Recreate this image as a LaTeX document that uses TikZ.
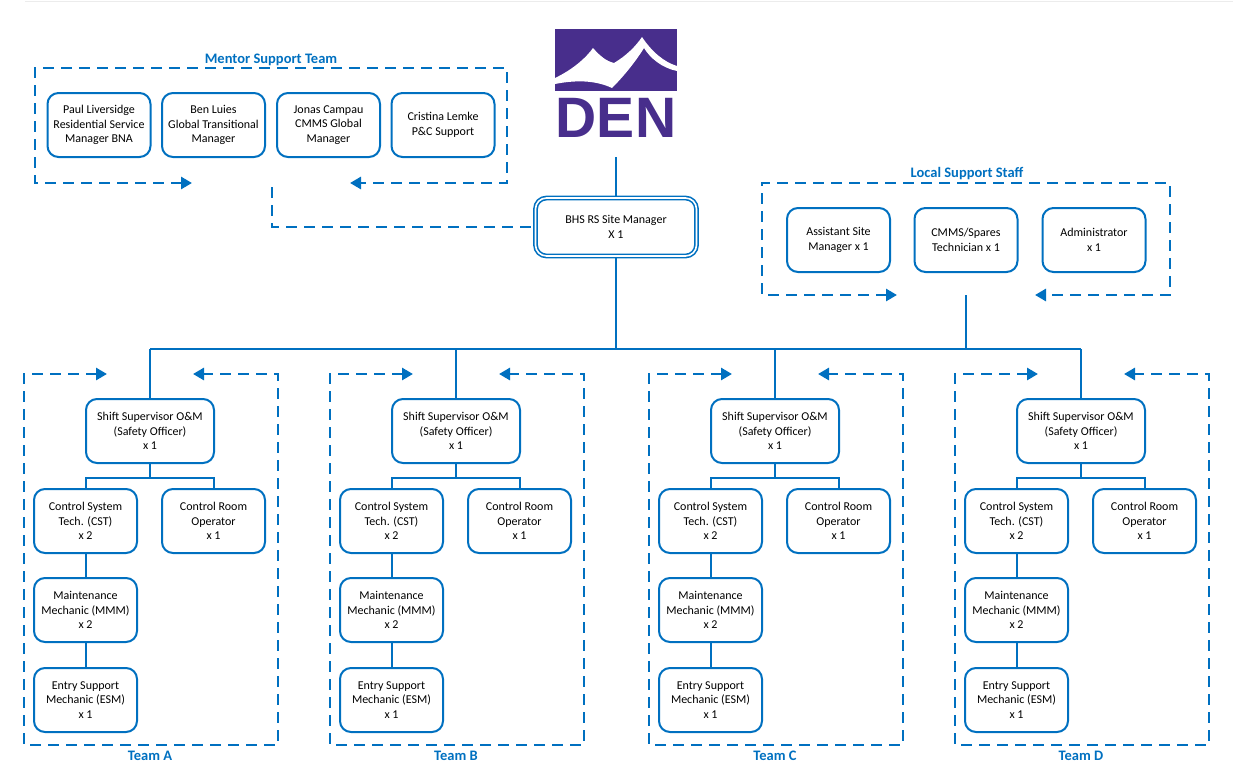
\documentclass[tikz,border=0pt]{standalone}
\usepackage{fontspec}
\setmainfont{Carlito}
\newfontfamily\logofont{Liberation Sans}
\usetikzlibrary{arrows.meta, positioning, calc}
\definecolor{orgblue}{RGB}{0,112,192}
\definecolor{denpurple}{RGB}{72,46,140}
\tikzset{
 staff/.style={draw=orgblue, line width=2pt, rounded corners=11pt, fill=white, align=center,
   minimum width=103pt, minimum height=64pt, inner sep=2pt, font=\fontsize{12}{14.5}\selectfont},
 chief/.style={staff, minimum width=128pt},
 teamframe/.style={draw=orgblue, line width=2.8pt, dash pattern=on 11pt off 7pt},
 framearrows/.style={teamframe, {Triangle[length=11pt,width=12pt]}-{Triangle[length=11pt,width=12pt]}},
 link/.style={draw=orgblue, line width=2pt},
 heading/.style={text=orgblue, inner sep=0pt, font=\fontsize{14.5}{16}\selectfont\bfseries},
}

\begin{document}
\begin{tikzpicture}[x=1pt, y=-1pt]
 \useasboundingbox (0,0) rectangle (1243,771);
 \draw[gray!15, line width=1pt] (25,1) -- (1233,1);

 %logo
 \fill[denpurple] (555,29) rectangle (677,91);
 \fill[white] (555,78) .. controls (572,70) and (586,58) .. (593,48)
   .. controls (600,56) and (606,61) .. (614,63)
   .. controls (626,56) and (636,46) .. (642,37)
   .. controls (652,52) and (664,62) .. (677,66) -- (677,71)
   .. controls (662,68) and (650,58) .. (644,48)
   .. controls (634,64) and (622,78) .. (612,88)
   .. controls (595,80) and (575,80) .. (555,84) -- cycle;
 \node[text=denpurple, font=\logofont\bfseries\fontsize{57}{57}\selectfont, inner sep=0pt, anchor=base] (den) at (616,137) {DEN};
 \coordinate (logofoot) at (616,157);

 %site manager
 \node[staff, double=white, double distance=1.6pt, line width=1.6pt, minimum width=161pt, minimum height=58pt] (bhs) at (616,227) {BHS RS Site Manager\\X 1};
 \draw[link] (logofoot) -- (bhs.north);
 \coordinate (bus) at (616,349);
 \draw[link] (bhs.south) -- (bus);

 %mentor support team
 \node[heading] (mentor) at (271,60) {Mentor Support Team};
 \node[staff] (paul) at (99,125) {Paul Liversidge\\Residential Service\\Manager BNA};
 \node[staff] (ben) at (213.5,125) {Ben Luies\\Global Transitional\\Manager};
 \node[staff] (jonas) at (328.5,125) {Jonas Campau\\CMMS Global\\Manager};
 \node[staff] (cristina) at (443,125) {Cristina Lemke\\P\&C Support};
 \draw[framearrows] (192,183) -- (35,183) -- (35,68) -- (507,68) -- (507,183) -- (350,183);
 \coordinate (mentorfoot) at (272,187);
 \draw[teamframe] (mentorfoot) |- (bhs.west);

 %local support staff
 \node[heading] (local) at (967,174) {Local Support Staff};
 \node[staff] (asm) at (838.5,240) {Assistant Site\\Manager x 1};
 \node[staff] (cmms) at (966,240) {CMMS/Spares\\Technician x 1};
 \node[staff] (admin) at (1094,240) {Administrator\\x 1};
 \draw[framearrows] (897,295) -- (762,295) -- (762,183) -- (1170,183) -- (1170,295) -- (1035,295);
 \coordinate (localfoot) at (966,295);
 \draw[link] (localfoot) -- (localfoot |- bus);

 %teams
 \foreach \t/\x in {A/150,B/456,C/775,D/1081}{
  \node[chief] (sup\t) at (\x,431) {Shift Supervisor O\&M\\(Safety Officer)\\x 1};
  \node[staff] (cst\t) at (\x-64.5,521) {Control System\\Tech. (CST)\\x 2};
  \node[staff] (cro\t) at (\x+63.5,521) {Control Room\\Operator\\x 1};
  \node[staff] (mmm\t) at (\x-64.5,610) {Maintenance\\Mechanic (MMM)\\x 2};
  \node[staff] (esm\t) at (\x-64.5,700) {Entry Support\\Mechanic (ESM)\\x 1};
  \draw[link] (sup\t.south) -- ++(0,14) -| (cst\t.north);
  \draw[link] (sup\t.south) -- ++(0,14) -| (cro\t.north);
  \draw[link] (cst\t) -- (mmm\t);
  \draw[link] (mmm\t) -- (esm\t);
  \draw[link] (sup\t.north |- bus) -- (sup\t.north);
  \draw[framearrows] (\x-43,374) -- (\x-126,374) -- (\x-126,745) -- (\x+128,745) -- (\x+128,374) -- (\x+43,374);
  \node[heading] (team\t) at (\x,756) {Team \t};
 }
 \draw[link] (supA.north |- bus) -- (supD.north |- bus);
\end{tikzpicture}
\end{document}
